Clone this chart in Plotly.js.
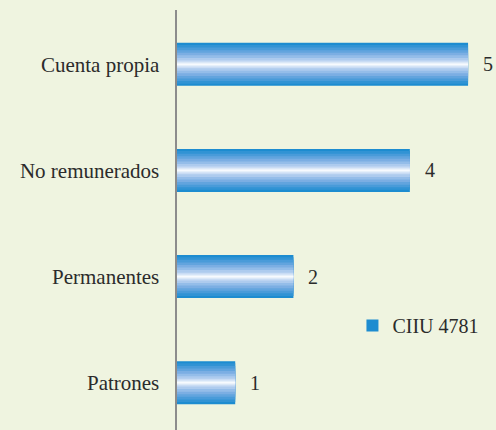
<!DOCTYPE html>
<html><head><meta charset="utf-8">
<script src="https://cdn.plot.ly/plotly-3.0.1.min.js"></script>
<style>
html,body{margin:0;padding:0;background:#eff4e0;}
</style>
</head><body>
<div id="chart" style="width:496px;height:430px;"></div>
<script>
const categories = ["Patrones", "Permanentes", "No remunerados", "Cuenta propia"];
const values = [1, 2, 4, 5];
const seriesName = "CIIU 4781";

const FONT = "Liberation Serif";
const TXT = "#2b2b2b";

// styling: stacked overlay layers that imitate the vertical blue-white-blue gradient
const layerStyles = [
  [0.405, "#1d8cd0"], [0.3645, "#3193d4"], [0.3159, "#499bd9"], [0.2673, "#62a4de"],
  [0.2187, "#7baee3"], [0.1701, "#94bde9"], [0.1215, "#adcbee"], [0.0729, "#c9dcf4"],
  [0.0405, "#e1ecf9"], [0.0162, "#f7fafe"]
];

const traces = layerStyles.map(([w, col], k) => ({
  type: "bar", orientation: "h",
  y: categories, x: values, name: seriesName,
  width: w,
  marker: {color: col, line: {width: 0}},
  showlegend: k === 0, hoverinfo: "none"
}));

const annotations = categories.map((c, i) => ({
  x: values[i], y: c, xref: "x", yref: "y",
  text: String(values[i]), showarrow: false,
  xanchor: "left", yanchor: "middle", xshift: 13,
  font: {family: FONT, size: 20, color: TXT}
}));

const layout = {
  width: 496, height: 430,
  paper_bgcolor: "#eff4e0", plot_bgcolor: "#eff4e0",
  barmode: "overlay",
  margin: {l: 177, r: 0, t: 10, b: 0, pad: 0},
  font: {family: FONT, color: TXT},
  xaxis: {range: [0, 5.48], visible: false, fixedrange: true},
  yaxis: {
    type: "category", range: [-0.446, 3.512],
    showline: true, linecolor: "#8c8c8c", linewidth: 2.5,
    showgrid: false, zeroline: false, ticks: "", ticklabelstandoff: 11,
    tickfont: {family: FONT, size: 21, color: TXT}, fixedrange: true
  },
  showlegend: true,
  legend: {
    x: 0.55, y: 0.249, xanchor: "left", yanchor: "middle",
    bgcolor: "rgba(0,0,0,0)", borderwidth: 0,
    font: {family: FONT, size: 20, color: TXT}
  },
  annotations: annotations
};

Plotly.newPlot("chart", traces, layout, {staticPlot: true, displayModeBar: false});
</script>
</body></html>
